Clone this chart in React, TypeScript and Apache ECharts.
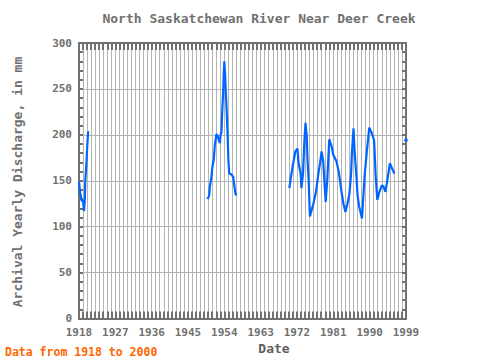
import React, { useEffect, useRef } from "react";
import * as echarts from "echarts";

const titleText = "North Saskatchewan River Near Deer Creek";
const yAxisTitle = "Archival Yearly Discharge, in mm";
const xAxisTitle = "Date";
const noteText = "Data from 1918 to 2000";

const seg1X = [1918, 1918.3, 1918.7, 1919, 1919.25, 1919.45, 1919.55, 1919.85, 1920.1, 1920.25, 1920.5];
const seg1Y = [149, 137, 128, 128, 117, 130, 150, 170, 192, 203, 203];

const seg2X = [1949.85, 1950.25, 1950.4, 1950.8, 1951.05, 1951.4, 1951.65, 1952.05, 1952.4, 1952.65, 1952.9, 1953.05, 1953.3, 1953.45, 1953.7, 1953.85, 1954.0, 1954.2, 1954.35, 1954.5, 1954.8, 1955.0, 1955.2, 1955.75, 1956.2, 1956.5, 1956.75, 1957.0];
const seg2Y = [130, 134, 143, 154, 165, 174, 189, 201, 198, 194, 191, 200, 203, 223, 245, 267, 280, 265, 249, 234, 202, 173, 158, 157, 154, 144, 136, 134];

const seg3X = [1970.1, 1970.5, 1970.9, 1971.6, 1972.1, 1972.4, 1972.9, 1973.1, 1973.5, 1973.8, 1974.1, 1974.4, 1974.6, 1974.9, 1975.2, 1976.05, 1976.7, 1977.3, 1977.7, 1978.1, 1978.5, 1979.1, 1979.5, 1980.0, 1980.6, 1981.0, 1981.8, 1982.4, 1983.1, 1983.5, 1984.0, 1984.5, 1985.0, 1985.4, 1985.6, 1986.0, 1986.3, 1986.7, 1987.0, 1987.4, 1988.1, 1988.4, 1988.8, 1989.3, 1989.9, 1990.5, 1991.1, 1991.5, 1991.9, 1992.4, 1993.0, 1993.4, 1993.9, 1994.5, 1995.0, 1995.5, 1996.0, 1996.2];
const seg3Y = [142, 154, 165, 182, 185, 169, 158, 142, 158, 191, 213, 200, 174, 149, 111, 125, 138, 158, 169, 182, 171, 127, 151, 195, 187, 178, 171, 158, 136, 125, 116, 125, 136, 158, 180, 207, 180, 156, 134, 122, 109, 131, 158, 182, 208, 202, 194, 154, 129, 138, 145, 144, 138, 154, 169, 164, 159, 158];

const lastX = [1999];
const lastY = [194];

const xMin = 1918;
const xMax = 1999;
const xStep = 9;
const yMin = 0;
const yMax = 300;
const yStep = 50;

const zip = (xs: number[], ys: number[]) => xs.map((x, i) => [x, ys[i]]);

const AXIS = "#707070";
const GRID = "#b4b4b4";
const TEXT = "#707070";
const LINE = "#0066ff";
const FONT = "DejaVu Sans Mono";

export default function App() {
  const ref = useRef<HTMLDivElement>(null);
  useEffect(() => {
    if (!ref.current) return;
    const chart = echarts.init(ref.current, null, { renderer: "svg" });
    const xBase = {
      type: "value",
      min: xMin,
      max: xMax,
      interval: xStep,
      axisLine: { show: true, onZero: false, lineStyle: { color: AXIS, width: 2 } },
      axisTick: { show: true, inside: true, length: 7, lineStyle: { color: AXIS, width: 2 } },
      minorTick: { show: true, splitNumber: 9, length: 7, lineStyle: { color: AXIS, width: 2 } },
    };
    const yBase = {
      type: "value",
      min: yMin,
      max: yMax,
      interval: yStep,
      axisLine: { show: true, onZero: false, lineStyle: { color: AXIS, width: 2 } },
      axisTick: { show: true, inside: true, length: 4, lineStyle: { color: AXIS, width: 2 } },
      minorTick: { show: true, splitNumber: 5, length: 4, lineStyle: { color: AXIS, width: 2 } },
    };
    chart.setOption({
      animation: false,
      backgroundColor: "#ffffff",
      grid: { left: 79, right: 74, top: 43, bottom: 41.5, containLabel: false },
      xAxis: [
        {
          ...xBase,
          position: "bottom",
          axisLabel: {
            show: true,
            color: TEXT,
            fontFamily: FONT,
            fontWeight: "bold",
            fontSize: 11,
            margin: 8,
            formatter: (v: number) => String(v),
          },
          splitLine: { show: true, lineStyle: { color: GRID, width: 1 } },
          minorSplitLine: { show: true, lineStyle: { color: GRID, width: 1 } },
        },
        {
          ...xBase,
          position: "top",
          axisLabel: { show: false },
          splitLine: { show: false },
        },
      ],
      yAxis: [
        {
          ...yBase,
          position: "left",
          axisLabel: {
            show: true,
            color: TEXT,
            fontFamily: FONT,
            fontWeight: "bold",
            fontSize: 11,
            margin: 7,
            formatter: (v: number) => String(v),
          },
          splitLine: { show: true, lineStyle: { color: GRID, width: 1 } },
        },
        {
          ...yBase,
          position: "right",
          axisLabel: { show: false },
          splitLine: { show: false },
        },
      ],
      series: [
        { type: "line", data: zip(seg1X, seg1Y), showSymbol: false, lineStyle: { color: LINE, width: 2.2 }, itemStyle: { color: LINE } },
        { type: "line", data: zip(seg2X, seg2Y), showSymbol: false, lineStyle: { color: LINE, width: 2.2 }, itemStyle: { color: LINE } },
        { type: "line", data: zip(seg3X, seg3Y), showSymbol: false, lineStyle: { color: LINE, width: 2.2 }, itemStyle: { color: LINE } },
        { type: "scatter", data: zip(lastX, lastY), symbolSize: 4, itemStyle: { color: LINE } },
      ],
      graphic: [
        {
          type: "text",
          x: 259,
          y: 18,
          style: { text: titleText, fill: TEXT, font: `bold 13px "${FONT}"`, align: "center", verticalAlign: "middle" },
        },
        {
          type: "text",
          x: 274,
          y: 348,
          style: { text: xAxisTitle, fill: "#606060", font: `bold 13px "${FONT}"`, align: "center", verticalAlign: "middle" },
        },
        {
          type: "text",
          x: 17,
          y: 182,
          rotation: Math.PI / 2,
          style: { text: yAxisTitle, fill: TEXT, font: `bold 13px "${FONT}"`, align: "center", verticalAlign: "middle" },
        },
        {
          type: "text",
          x: 5,
          y: 352,
          style: { text: noteText, fill: "#ff6600", font: `bold 11.5px "${FONT}"`, align: "left", verticalAlign: "middle" },
        },
      ],
    });
    return () => chart.dispose();
  }, []);
  return (
    <div
      ref={ref}
      style={{ position: "fixed", left: 0, top: 0, width: 480, height: 360, background: "#fff" }}
    />
  );
}
